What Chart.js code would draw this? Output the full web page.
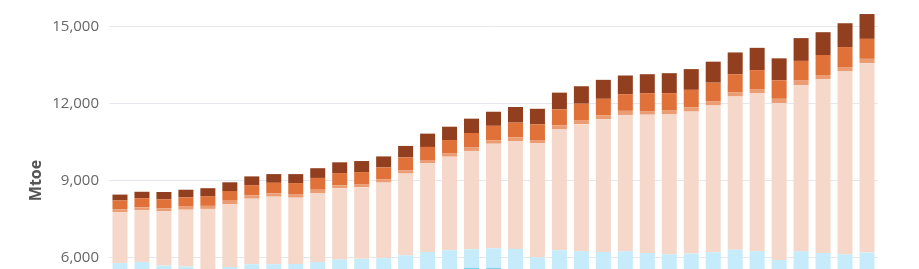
<!DOCTYPE html>
<html><head><meta charset="utf-8">
<script src="https://cdn.jsdelivr.net/npm/chart.js@4/dist/chart.umd.min.js"></script>
<style>
html,body{margin:0;padding:0;background:#fff;overflow:hidden;width:919px;height:269px;}
#wrap{position:absolute;left:0;top:-50px;width:919px;height:461px;}
</style></head><body>
<div id="wrap"><canvas id="c"></canvas></div>
<script>
const years = ['1990','1991','1992','1993','1994','1995','1996','1997','1998','1999',
  '2000','2001','2002','2003','2004','2005','2006','2007','2008','2009',
  '2010','2011','2012','2013','2014','2015','2016','2017','2018','2019',
  '2020','2021','2022','2023','2024'];

const seriesDeepBlue = [5300,5320,5280,5250,5200,5250,5300,5330,5350,5400,
  5450,5470,5480,5500,5520,5540,5595,5595,5540,5380,
  5500,5480,5460,5470,5450,5420,5430,5460,5500,5470,
  5300,5480,5450,5420,5440];
const seriesLightBlue = [480,500,400,390,290,370,430,400,390,420,
  470,470,490,580,690,740,720,760,790,620,
  780,760,750,770,720,700,720,740,800,770,
  600,760,720,700,750];
const seriesPeach = [1980,2020,2120,2220,2400,2450,2560,2640,2590,2690,
  2780,2800,2950,3190,3460,3650,3840,4080,4210,4450,
  4730,4960,5180,5320,5400,5460,5540,5730,5980,6160,
  6120,6490,6790,7140,7390];
const seriesSalmon = [120,110,110,120,120,140,130,130,140,130,
  110,120,130,130,130,140,130,140,140,130,
  140,160,160,160,140,170,160,170,170,170,
  170,170,160,170,170];
const seriesOrange = [340,360,360,360,380,380,400,410,430,460,
  480,470,460,500,510,510,570,560,580,610,
  630,640,640,650,700,660,690,720,700,740,
  720,770,780,780,780];
const seriesBrown = [230,250,280,300,310,340,340,340,350,380,
  420,430,430,450,520,520,560,550,610,610,
  650,680,740,730,740,780,810,820,850,870,
  860,890,890,930,970];

const yTicksStep = 3000;
const yMin = 0;
const yMax = 18000;
const yTitle = 'Mtoe';

const colors = ['#7fd2f0','#c6ecfb','#f5d8ca','#eb9c73','#df7139','#913f1e'];
const names = ['Series 1','Series 2','Series 3','Series 4','Series 5','Series 6'];
const data = [seriesDeepBlue, seriesLightBlue, seriesPeach, seriesSalmon, seriesOrange, seriesBrown];

new Chart(document.getElementById('c'), {
  type: 'bar',
  data: {
    labels: years,
    datasets: data.map((d, i) => ({
      label: names[i], data: d, backgroundColor: colors[i], borderWidth: 0,
      categoryPercentage: 1.0, barPercentage: 0.683
    }))
  },
  options: {
    responsive: true, maintainAspectRatio: false, animation: false,
    layout: { padding: { left: 0, right: 41, top: 0, bottom: 0 } },
    plugins: { legend: { display: false }, tooltip: { enabled: false } },
    scales: {
      x: { stacked: true, display: false },
      y: {
        stacked: true, min: yMin, max: yMax,
        border: { display: false },
        grid: { color: '#e6e6ee', lineWidth: 1, drawTicks: false },
        ticks: {
          stepSize: yTicksStep, padding: 10, color: '#666',
          font: { family: '"Open Sans", sans-serif', size: 15 },
          callback: v => v.toLocaleString('en-US')
        },
        title: {
          display: true, text: yTitle, color: '#555',
          font: { family: '"Open Sans", sans-serif', size: 16, weight: 'bold' },
          padding: { top: 27, bottom: 0 }
        },
        afterFit: s => { s.width = 109; s.paddingTop = 0; s.paddingBottom = 0; }
      }
    }
  }
});
</script>
</body></html>
